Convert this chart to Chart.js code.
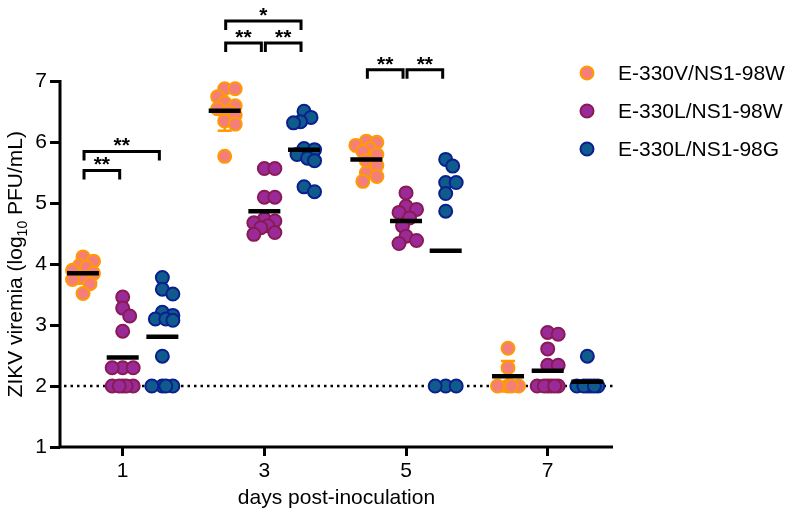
<!DOCTYPE html>
<html>
<head>
<meta charset="utf-8">
<script src="https://cdn.jsdelivr.net/npm/chart.js@4.4.0/dist/chart.umd.min.js"></script>
<style>
  body { margin: 0; background: #fff; }
</style>
</head>
<body>
<canvas id="chart" width="800" height="522"></canvas>
<script>
const days = [1, 3, 5, 7];
const groups = ["E-330V/NS1-98W", "E-330L/NS1-98W", "E-330L/NS1-98G"];

// log10 PFU/mL per mouse, one list per day
const v330W = [
  [4.12, 4.05, 3.98, 3.95, 3.9, 3.85, 3.78, 3.75, 3.68, 3.52],
  [6.88, 6.88, 6.75, 6.65, 6.6, 6.55, 6.5, 6.45, 6.35, 6.3, 5.77],
  [6.02, 6.0, 5.95, 5.9, 5.85, 5.8, 5.7, 5.62, 5.5, 5.44, 5.36],
  [2.62, 2.3, 2.0, 2.0, 2.0, 2.0]
];
const l330W = [
  [3.46, 3.28, 3.15, 2.9, 2.3, 2.3, 2.3, 2.0, 2.0, 2.0, 2.0, 2.0],
  [5.57, 5.57, 5.1, 5.1, 4.74, 4.71, 4.68, 4.63, 4.6, 4.52, 4.49],
  [5.17, 4.95, 4.9, 4.85, 4.76, 4.63, 4.46, 4.39, 4.34],
  [2.88, 2.85, 2.61, 2.34, 2.34, 2.0, 2.0, 2.0, 2.0, 2.0, 2.0]
];
const l330G = [
  [3.78, 3.59, 3.51, 3.21, 3.16, 3.1, 3.1, 3.08, 2.49, 2.0, 2.0, 2.0, 2.0],
  [6.51, 6.41, 6.34, 6.32, 5.9, 5.88, 5.8, 5.74, 5.7, 5.27, 5.19],
  [5.72, 5.61, 5.34, 5.34, 5.16, 4.87, 2.0, 2.0, 2.0],
  [2.49, 2.0, 2.0, 2.0, 2.0, 2.0, 2.0]
];
// group means (black bars) and SD of the E-330V group
const means = [
  [3.85, 6.52, 5.72, 2.16],
  [2.47, 4.87, 4.71, 2.25],
  [2.81, 5.88, 4.22, 2.07]
];
const sd330W = [0.17, 0.33, 0.22, 0.25];
const limit = 2;

// day, group a, group b, bracket height, label
const sig = [
  [1, 0, 2, 5.85, "**"],
  [1, 0, 1, 5.54, "**"],
  [3, 0, 2, 7.99, "*"],
  [3, 0, 1, 7.63, "**"],
  [3, 1, 2, 7.63, "**"],
  [5, 0, 1, 7.19, "**"],
  [5, 1, 2, 7.19, "**"]
];

const fills = ["#f47f7a", "#9b2a99", "#0f5c8c"];
const edges = ["#ff9a00", "#8a1a55", "#0b1f8e"];
const FONT = "Arial, 'Liberation Sans', sans-serif";
const SPREAD = 0.56;           // offset of the groups around each day
const PX = 70.8, PY = 61.2;    // approx pixels per unit, for the swarm

// simple beeswarm so overlapping points spread sideways
function swarm(vals) {
  const placed = [];
  return vals.map(v => {
    const y = v * PY;
    let best = 0, bestD = -1;
    for (const c of [0, 3.5, -3.5, 7, -7, 10.5, -10.5]) {
      let d = Infinity;
      placed.forEach(p => { d = Math.min(d, Math.hypot(p[0] - c, p[1] - y)); });
      if (d >= 9) { best = c; break; }
      if (d > bestD) { bestD = d; best = c; }
    }
    placed.push([best, y]);
    return best;
  });
}

function groupX(day, g) { return day + (g - 1) * SPREAD; }

const series = [v330W, l330W, l330G];
const datasets = series.map((s, g) => {
  const pts = [];
  s.forEach((vals, i) => {
    const offs = swarm(vals);
    vals.forEach((v, k) => pts.push({ x: groupX(days[i], g) + offs[k] / PX, y: v }));
  });
  return {
    label: groups[g], data: pts, order: 3 - g,
    backgroundColor: fills[g], borderColor: edges[g],
    pointRadius: 6.5, pointBorderWidth: 2, pointHoverRadius: 6.5
  };
});
const meanPts = [];
means.forEach((m, g) => m.forEach((v, i) => meanPts.push({ x: groupX(days[i], g), y: v })));
datasets.push({
  label: "mean", data: meanPts, order: 0,
  pointStyle: "line", pointRadius: 16, pointBorderWidth: 4.5,
  borderColor: "#000", backgroundColor: "#000", pointHoverRadius: 16
});

const extras = {
  id: "extras",
  beforeDatasetsDraw(chart) {
    const { ctx, chartArea: a, scales: { x, y } } = chart;
    ctx.save();
    // detection limit
    ctx.strokeStyle = "#000"; ctx.lineWidth = 2.5; ctx.setLineDash([2.5, 4]);
    ctx.beginPath();
    ctx.moveTo(a.left + 4, y.getPixelForValue(limit));
    ctx.lineTo(a.right, y.getPixelForValue(limit));
    ctx.stroke();
    ctx.setLineDash([]);
    // SD bars
    ctx.strokeStyle = edges[0]; ctx.lineWidth = 2.5;
    days.forEach((d, i) => {
      const px = x.getPixelForValue(groupX(d, 0));
      const lo = y.getPixelForValue(means[0][i] - sd330W[i]);
      const hi = y.getPixelForValue(means[0][i] + sd330W[i]);
      ctx.beginPath();
      ctx.moveTo(px, lo); ctx.lineTo(px, hi);
      ctx.moveTo(px - 7, lo); ctx.lineTo(px + 7, lo);
      ctx.moveTo(px - 7, hi); ctx.lineTo(px + 7, hi);
      ctx.stroke();
    });
    ctx.restore();
  },
  afterDraw(chart) {
    const { ctx, chartArea: a, scales: { x, y } } = chart;
    ctx.save();
    // axis lines
    ctx.strokeStyle = "#000"; ctx.lineWidth = 3;
    ctx.beginPath();
    ctx.moveTo(a.left, y.getPixelForValue(7) - 1.5);
    ctx.lineTo(a.left, a.bottom);
    ctx.lineTo(a.right, a.bottom);
    ctx.stroke();
    // brackets
    ctx.fillStyle = "#000"; ctx.font = "bold 21px " + FONT;
    ctx.textAlign = "center"; ctx.textBaseline = "alphabetic";
    sig.forEach(([d, ga, gb, h, lab]) => {
      const x0 = x.getPixelForValue(groupX(d, ga)) + 1;
      const x1 = x.getPixelForValue(groupX(d, gb)) - 3;
      const py = y.getPixelForValue(h);
      ctx.beginPath();
      ctx.moveTo(x0, py + 9); ctx.lineTo(x0, py); ctx.lineTo(x1, py); ctx.lineTo(x1, py + 9);
      ctx.stroke();
      ctx.fillText(lab, (x0 + x1) / 2, py + 1);
    });
    // y title with subscript
    const parts = ["ZIKV viremia (log", "10", " PFU/mL)"];
    ctx.font = "21px " + FONT;
    const w0 = ctx.measureText(parts[0]).width, w2 = ctx.measureText(parts[2]).width;
    ctx.font = "14px " + FONT;
    const w1 = ctx.measureText(parts[1]).width;
    const cy = (y.getPixelForValue(7) + a.bottom) / 2;
    ctx.translate(22, cy);
    ctx.rotate(-Math.PI / 2);
    ctx.textAlign = "left";
    let tx = -(w0 + w1 + w2) / 2;
    ctx.font = "21px " + FONT; ctx.fillText(parts[0], tx, 0); tx += w0;
    ctx.font = "14px " + FONT; ctx.fillText(parts[1], tx, 5); tx += w1;
    ctx.font = "21px " + FONT; ctx.fillText(parts[2], tx, 0);
    ctx.setTransform(1, 0, 0, 1, 0, 0);
    // legend
    ctx.font = "21px " + FONT; ctx.textBaseline = "middle"; ctx.textAlign = "left";
    ctx.lineWidth = 2;
    groups.forEach((name, g) => {
      const ly = 73 + g * 38;
      ctx.beginPath();
      ctx.arc(587, ly, 6.5, 0, Math.PI * 2);
      ctx.fillStyle = fills[g]; ctx.fill();
      ctx.strokeStyle = edges[g]; ctx.stroke();
      ctx.fillStyle = "#000";
      ctx.fillText(name, 618, ly + 1);
    });
    ctx.restore();
  }
};

const tickGrid = { drawOnChartArea: false, drawTicks: true, color: "#000", lineWidth: 3 };

new Chart(document.getElementById("chart"), {
  type: "scatter",
  data: { datasets: datasets },
  options: {
    responsive: false,
    animation: false,
    layout: { padding: { left: 0, right: 187, top: 0, bottom: 0 } },
    plugins: { legend: { display: false }, tooltip: { enabled: false } },
    scales: {
      x: {
        type: "linear", min: 0.115, max: 7.922,
        afterBuildTicks: s => { s.ticks = days.map(v => ({ value: v })); },
        afterFit: s => { s.height = 75; },
        grid: Object.assign({ tickLength: 9 }, tickGrid),
        border: { display: false },
        ticks: { color: "#000", font: { family: FONT, size: 21 }, padding: 3 },
        title: { display: true, text: "days post-inoculation", color: "#000",
                 font: { family: FONT, size: 21 }, padding: { top: 4, bottom: 11 } }
      },
      y: {
        min: 1, max: 8.0,
        afterBuildTicks: s => { s.ticks = [1, 2, 3, 4, 5, 6, 7].map(v => ({ value: v })); },
        afterFit: s => { s.width = 60; },
        grid: Object.assign({ tickLength: 10 }, tickGrid),
        border: { display: false },
        ticks: { color: "#000", font: { family: FONT, size: 21 }, padding: 3 }
      }
    }
  },
  plugins: [extras]
});
</script>
</body>
</html>
